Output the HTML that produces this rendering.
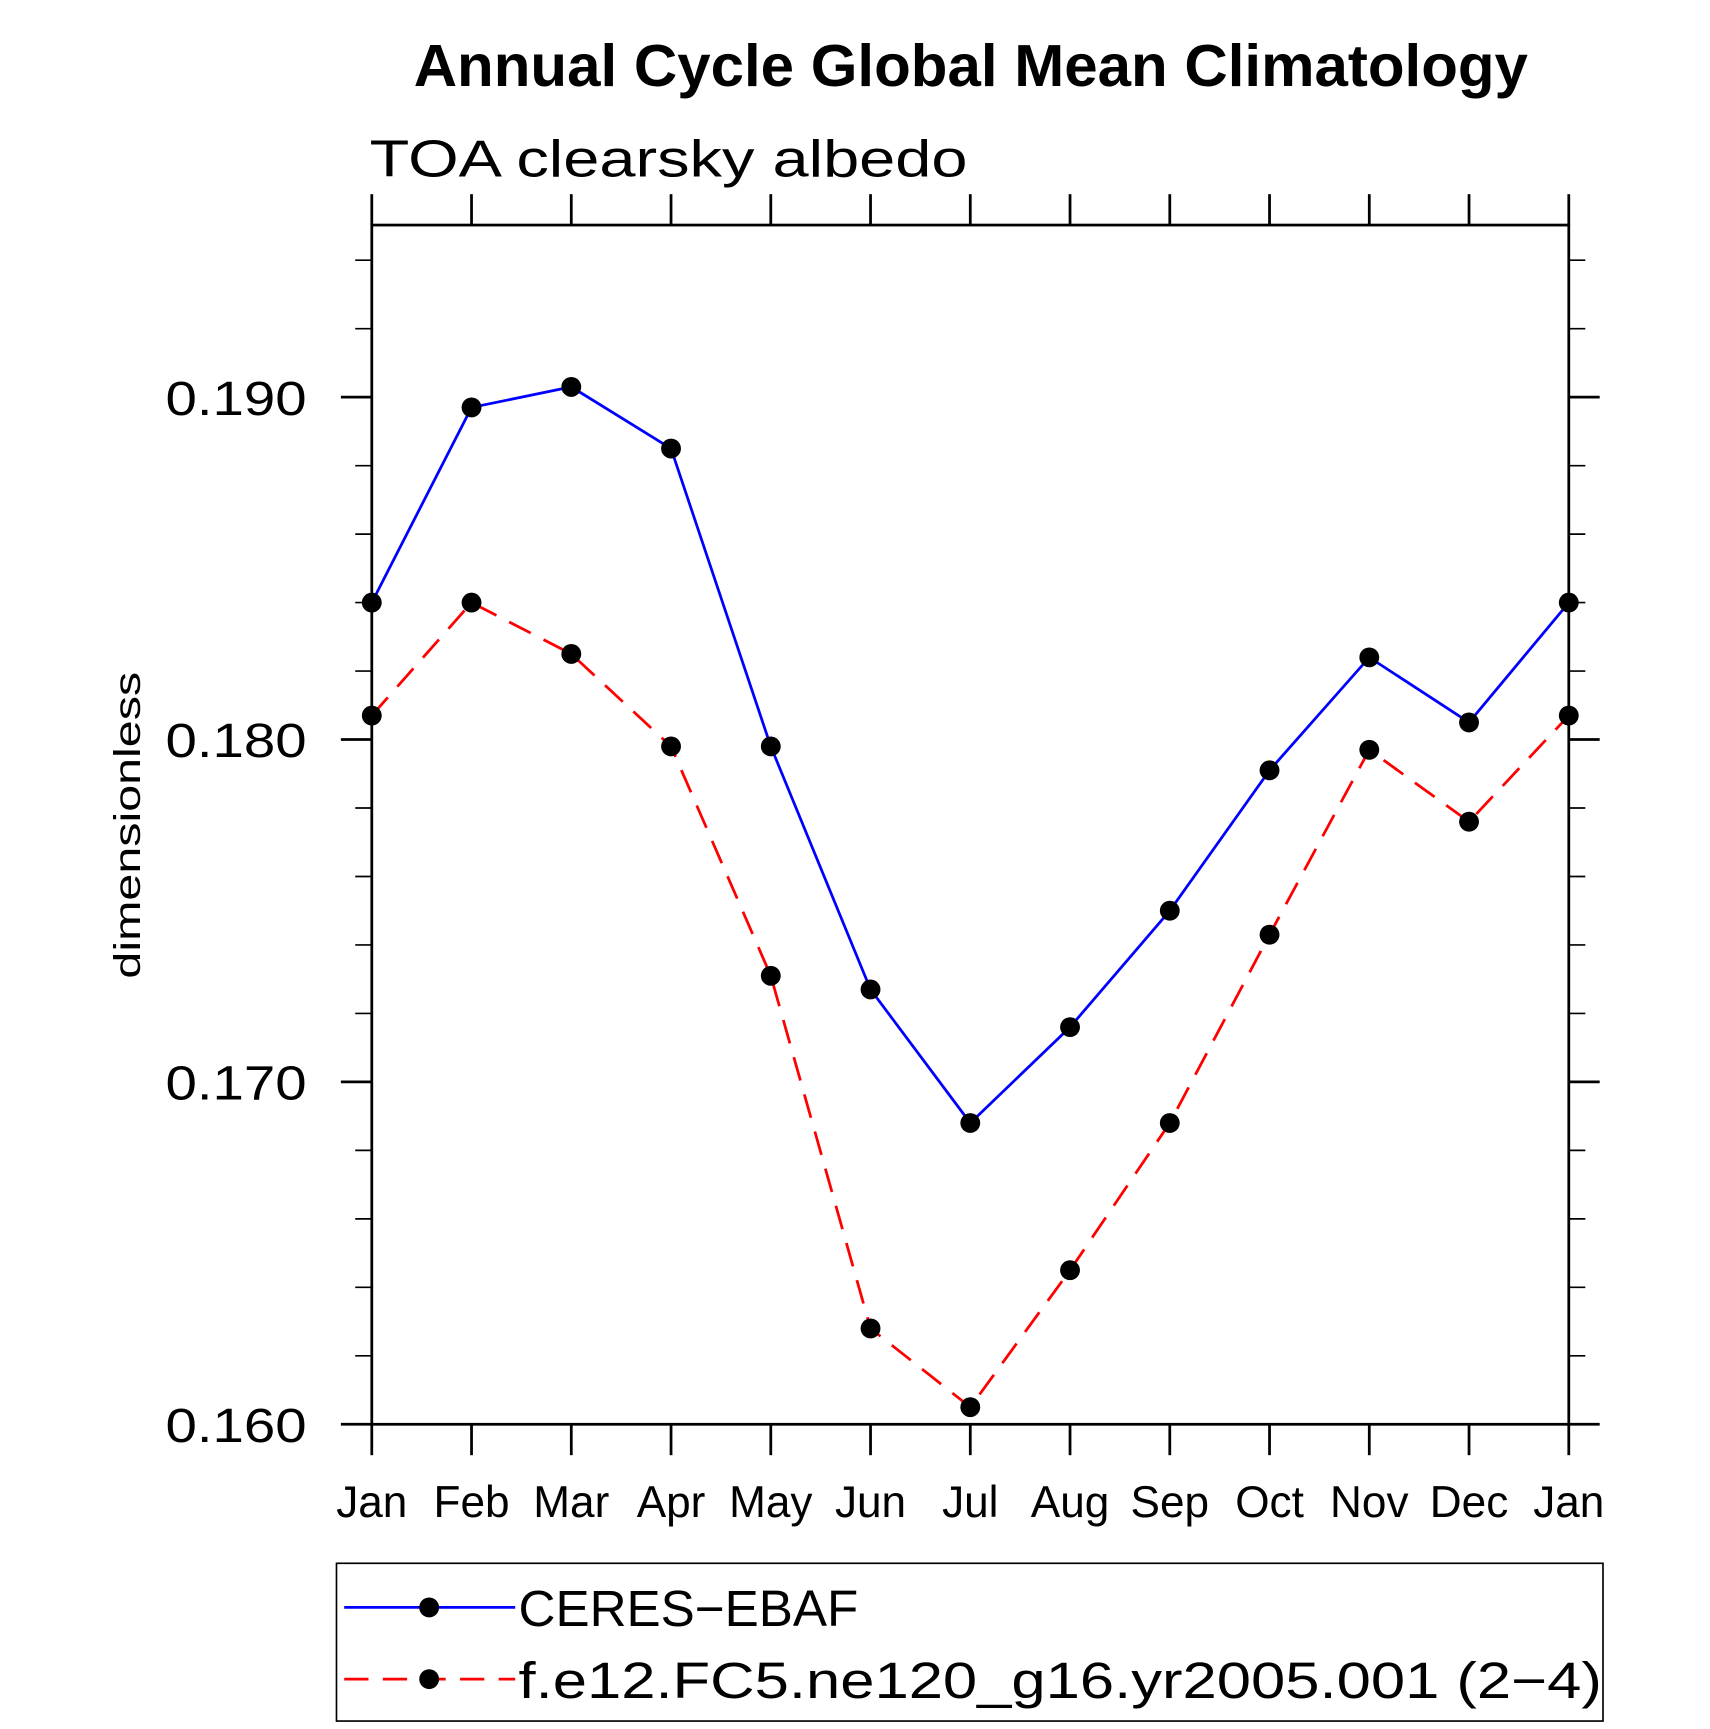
<!DOCTYPE html>
<html><head><meta charset="utf-8"><style>
html,body{margin:0;padding:0;background:#fff}
svg{display:block}
text{font-family:"Liberation Sans",sans-serif}
</style></head><body>
<svg id="chart" xmlns="http://www.w3.org/2000/svg" width="1710" height="1729" viewBox="0 0 1550 1567.2" preserveAspectRatio="none">
<text x="375" y="78" textLength="1010" lengthAdjust="spacingAndGlyphs" font-size="54" font-weight="bold">Annual Cycle Global Mean Climatology</text>
<text x="335" y="160" textLength="542" lengthAdjust="spacingAndGlyphs" font-size="47">TOA clearsky albedo</text>
<text transform="translate(127,748) rotate(-90)" text-anchor="middle" font-size="34" textLength="278" lengthAdjust="spacingAndGlyphs">dimensionless</text>
<rect x="337" y="204" width="1085" height="1087" fill="none" stroke="#000" stroke-width="2.5"/>
<g id="ticks"></g>
<g id="series"></g>
<rect x="305" y="1417" width="1148" height="143" fill="none" stroke="#000" stroke-width="1.5"/>
<line x1="312" y1="1457" x2="467" y2="1457" stroke="#0000ff" stroke-width="2.5"/>
<circle cx="389" cy="1457" r="9" fill="#000"/>
<text x="470" y="1474" font-size="46" textLength="308" lengthAdjust="spacingAndGlyphs">CERES−EBAF</text>
<line x1="312" y1="1522" x2="467" y2="1522" stroke="#ff0000" stroke-width="2.5" stroke-dasharray="22,13"/>
<circle cx="389" cy="1522" r="9" fill="#000"/>
<text x="470" y="1539" font-size="46" textLength="982" lengthAdjust="spacingAndGlyphs">f.e12.FC5.ne120_g16.yr2005.001 (2−4)</text>
</svg>
<script>
const months = ["Jan","Feb","Mar","Apr","May","Jun","Jul","Aug","Sep","Oct","Nov","Dec","Jan"];
const ceresValues = [0.1840,0.1897,0.1903,0.1885,0.1798,0.1727,0.1688,0.1716,0.1750,0.1791,0.1824,0.1805,0.1840];
const modelValues = [0.1807,0.1840,0.1825,0.1798,0.1731,0.1628,0.1605,0.1645,0.1688,0.1743,0.1797,0.1776,0.1807];
const yTickValues = [0.160,0.170,0.180,0.190];
const yTickLabels = ["0.160","0.170","0.180","0.190"];
const yMin = 0.160, yMax = 0.195;

const NS = "http://www.w3.org/2000/svg";
const L = 337, R = 1422, T = 204, B = 1291;
const yBase = 1291, yPerUnit = (1291 - 360) / 0.03;
function xPos(i){ return L + (R - L) * i / (months.length - 1); }
function yPos(v){ return yBase - (v - yMin) * yPerUnit; }
function mk(tag, attrs, parent){
  const e = document.createElementNS(NS, tag);
  for (const k in attrs) e.setAttribute(k, attrs[k]);
  parent.appendChild(e);
  return e;
}
const tg = document.getElementById('ticks');
months.forEach((m, i) => {
  const x = xPos(i);
  const b = mk('line', {x1:x, y1:B, x2:x, y2:B+28, stroke:'#000', 'stroke-width':2.5}, tg);
  
  
  const t = mk('line', {x1:x, y1:T, x2:x, y2:T-28, stroke:'#000', 'stroke-width':2.5}, tg);
  
  
  const lb = mk('text', {x:x, y:1375, 'text-anchor':'middle', 'font-size':40}, tg);
  lb.textContent = m;
  
  
});
for (let k = 0; k * 0.002 + yMin <= yMax + 1e-9; k++) {
  const v = yMin + k * 0.002;
  const y = yPos(v);
  const major = (k % 5 === 0);
  const len = major ? 28 : 15;
  const a = mk('line', {x1:L-len, y1:y, x2:L, y2:y, stroke:'#000', 'stroke-width':major?2.5:1.5}, tg);
  
  
  const c = mk('line', {x1:R, y1:y, x2:R+len, y2:y, stroke:'#000', 'stroke-width':major?2.5:1.5}, tg);
  
  
}
yTickValues.forEach((v, i) => {
  const lb = mk('text', {x:150, y:yPos(v)+16, 'font-size':44, textLength:128, lengthAdjust:'spacingAndGlyphs'}, tg);
  lb.textContent = yTickLabels[i];
  
  
});
const sg = document.getElementById('series');
function drawSeries(vals, color, dash, name){
  const pts = vals.map((v, i) => xPos(i) + ',' + yPos(v)).join(' ');
  const attrs = {points:pts, fill:'none', stroke:color, 'stroke-width':2.5};
  if (dash) attrs['stroke-dasharray'] = dash;
  const pl = mk('polyline', attrs, sg);
  
  
  vals.forEach((v, i) => {
    const c = mk('circle', {cx:xPos(i), cy:yPos(v), r:9, fill:'#000'}, sg);
    
    
  });
}
drawSeries(modelValues, '#ff0000', '22,13', 'model');
drawSeries(ceresValues, '#0000ff', null, 'ceres');
</script>
</body></html>
